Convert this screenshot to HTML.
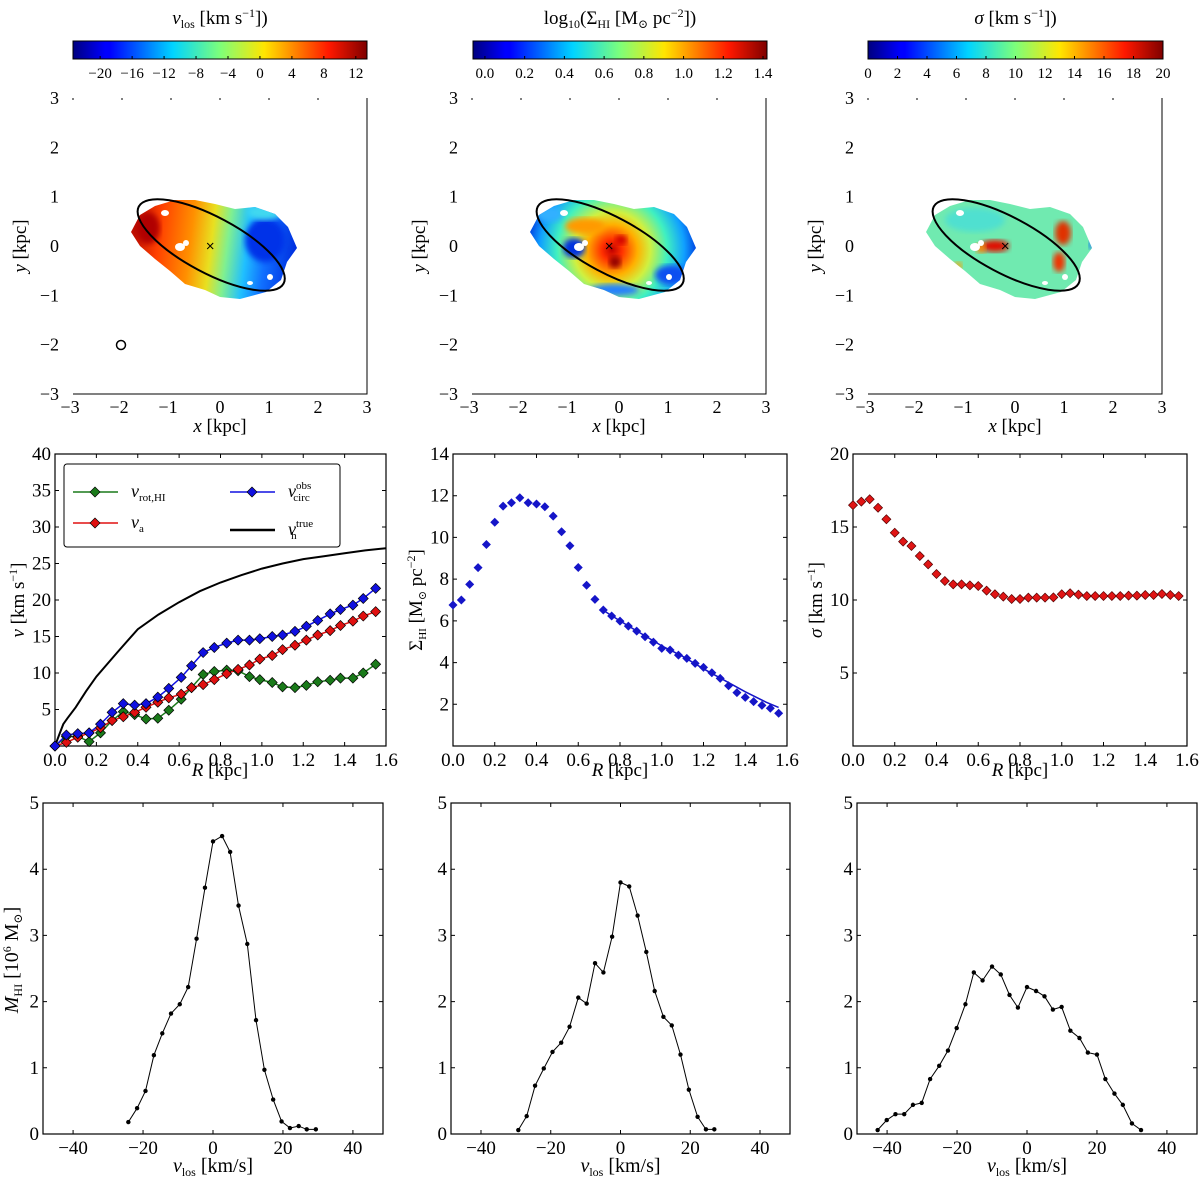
<!DOCTYPE html>
<html><head><meta charset="utf-8"><style>
html,body{margin:0;padding:0;background:#fff;}
svg{display:block;font-family:"Liberation Serif","DejaVu Serif",serif;}
</style></head><body>
<svg id="fig" width="1200" height="1183" viewBox="0 0 1200 1183" xmlns="http://www.w3.org/2000/svg">
<defs>
<linearGradient id="jet" x1="0" x2="1" y1="0" y2="0">
<stop offset="0" stop-color="#00007f"/><stop offset="0.11" stop-color="#0000ff"/><stop offset="0.125" stop-color="#0000ff"/><stop offset="0.34" stop-color="#00d4ff"/><stop offset="0.5" stop-color="#7dff7a"/><stop offset="0.65" stop-color="#ffe600"/><stop offset="0.87" stop-color="#ff1800"/><stop offset="1" stop-color="#7f0000"/>
</linearGradient>
<linearGradient id="velgrad" gradientUnits="userSpaceOnUse" x1="135" y1="230" x2="295" y2="250">
<stop offset="0" stop-color="#c01000"/><stop offset="0.15" stop-color="#ff4000"/><stop offset="0.35" stop-color="#ff9000"/><stop offset="0.48" stop-color="#e8e020"/><stop offset="0.58" stop-color="#80f090"/><stop offset="0.7" stop-color="#20c0ff"/><stop offset="0.82" stop-color="#1070ff"/><stop offset="1" stop-color="#0030e0"/>
</linearGradient>
<radialGradient id="densgrad" gradientUnits="userSpaceOnUse" cx="612" cy="250" r="85">
<stop offset="0" stop-color="#c00000"/><stop offset="0.12" stop-color="#ff3000"/><stop offset="0.3" stop-color="#ffb000"/><stop offset="0.45" stop-color="#d0f040"/><stop offset="0.65" stop-color="#40f0c0"/><stop offset="0.85" stop-color="#10a0ff"/><stop offset="1" stop-color="#0040e0"/>
</radialGradient>
<filter id="blur3"><feGaussianBlur stdDeviation="3"/></filter>
</defs>
</svg>
<script>
// ---------- data ----------
var cbVelTicks = [-20,-16,-12,-8,-4,0,4,8,12];
var cbDensTicks = [0.0,0.2,0.4,0.6,0.8,1.0,1.2,1.4];
var cbSigTicks = [0,2,4,6,8,10,12,14,16,18,20];
var mapTicks = [-3,-2,-1,0,1,2,3];
var rotR = [0,0.055,0.11,0.165,0.22,0.276,0.33,0.385,0.44,0.497,0.55,0.61,0.66,0.716,0.77,0.83,0.885,0.94,0.99,1.05,1.10,1.16,1.215,1.27,1.33,1.38,1.44,1.49,1.55];
var vcircObs = [0,1.5,1.7,1.8,3.0,4.6,5.8,5.6,5.8,6.7,7.9,9.4,11.0,12.8,13.5,14.1,14.5,14.5,14.7,15.0,15.2,15.7,16.4,17.2,18.1,18.7,19.3,20.2,21.6];
var vA = [0,0.5,1.2,1.8,2.5,3.5,4.0,4.6,5.3,6.0,6.6,7.1,8.0,8.4,9.1,9.9,10.5,11.1,11.9,12.4,13.2,13.8,14.5,15.2,15.8,16.5,17.1,17.8,18.4];
var vRotHI = [0,1.3,1.3,0.6,1.8,3.5,4.7,4.3,3.7,3.8,4.9,6.4,8.0,9.8,10.2,10.4,10.3,9.5,9.1,8.7,8.1,8.0,8.3,8.8,9.0,9.3,9.3,10.0,11.2];
var trueR = [0,0.02,0.04,0.06,0.1,0.15,0.2,0.3,0.4,0.5,0.6,0.7,0.8,0.9,1.0,1.1,1.2,1.3,1.4,1.5,1.6];
var vTrue = [0,1.5,3.0,3.8,5.3,7.5,9.5,12.8,16.0,18.0,19.7,21.2,22.4,23.4,24.3,25.0,25.6,26.0,26.4,26.8,27.1];
var profR = [0,0.04,0.08,0.12,0.16,0.2,0.24,0.28,0.32,0.36,0.4,0.44,0.48,0.52,0.56,0.6,0.64,0.68,0.72,0.76,0.8,0.84,0.88,0.92,0.96,1.0,1.04,1.08,1.12,1.16,1.2,1.24,1.28,1.32,1.36,1.4,1.44,1.48,1.52,1.56];
var sigmaHI = [6.76,7.0,7.75,8.55,9.66,10.73,11.5,11.66,11.9,11.66,11.6,11.47,11.02,10.27,9.6,8.56,7.71,7.03,6.52,6.23,5.99,5.75,5.51,5.24,4.98,4.68,4.6,4.36,4.2,3.96,3.77,3.51,3.24,2.89,2.56,2.33,2.13,1.95,1.81,1.57];
var fitR = [0.72,0.8,0.9,1.0,1.1,1.2,1.3,1.4,1.5,1.56];
var fitSigma = [6.5,6.0,5.4,4.8,4.3,3.7,3.15,2.6,2.1,1.85];
var dispHI = [16.5,16.74,16.9,16.32,15.53,14.61,14.0,13.7,13.01,12.44,11.78,11.3,11.07,11.07,11.0,10.96,10.64,10.39,10.23,10.07,10.07,10.16,10.16,10.16,10.18,10.39,10.46,10.37,10.27,10.27,10.27,10.27,10.27,10.3,10.3,10.34,10.34,10.41,10.34,10.27];
var spec1V = [-24.2,-21.7,-19.3,-16.9,-14.5,-12.0,-9.5,-7.1,-4.7,-2.3,0,2.6,4.9,7.3,9.8,12.3,14.7,17.2,19.6,22,24.5,26.8,29.4];
var spec1M = [0.18,0.39,0.65,1.19,1.52,1.82,1.96,2.22,2.95,3.72,4.42,4.50,4.26,3.45,2.87,1.72,0.97,0.52,0.19,0.09,0.12,0.07,0.07];
var spec2V = [-29.3,-26.9,-24.5,-22.0,-19.5,-17.0,-14.6,-12.1,-9.7,-7.3,-4.9,-2.4,0,2.5,4.9,7.4,9.8,12.3,14.7,17.2,19.6,22.1,24.5,26.9];
var spec2M = [0.06,0.27,0.73,0.99,1.24,1.38,1.62,2.06,1.97,2.58,2.44,2.98,3.80,3.74,3.30,2.75,2.16,1.77,1.64,1.20,0.67,0.26,0.07,0.07];
var spec3V = [-42.7,-40.1,-37.6,-35.1,-32.6,-30.1,-27.7,-25.1,-22.6,-20.1,-17.6,-15.2,-12.7,-10.0,-7.5,-5.0,-2.6,0,2.6,5.0,7.4,9.9,12.4,15.0,17.4,20.0,22.4,25.0,27.4,30.0,32.6];
var spec3M = [0.06,0.21,0.30,0.30,0.44,0.47,0.83,1.03,1.26,1.60,1.96,2.44,2.32,2.53,2.41,2.10,1.91,2.22,2.16,2.08,1.88,1.92,1.56,1.45,1.23,1.20,0.83,0.61,0.44,0.16,0.06];
var rTicks = [0.0,0.2,0.4,0.6,0.8,1.0,1.2,1.4,1.6];
var vTicks = [5,10,15,20,25,30,35,40];
var sigmaTicks = [2,4,6,8,10,12,14];
var dispTicks = [5,10,15,20];
var specXTicks = [-40,-20,0,20,40];
var specYTicks = [0,1,2,3,4,5];

// ---------- helpers ----------
var NS = "http://www.w3.org/2000/svg";
var svg = document.getElementById('fig');
function mk(tag, attrs, parent){
  var e = document.createElementNS(NS, tag);
  for (var k in attrs) e.setAttribute(k, attrs[k]);
  (parent || svg).appendChild(e);
  return e;
}
function scale(d0,d1,p0,p1){ return function(v){ return p0 + (v-d0)/(d1-d0)*(p1-p0); }; }
function txt(x,y,s,size,anchor,parent,name){
  var t = mk('text',{x:x,y:y,'font-size':size,'text-anchor':anchor||'middle',fill:'#000'},parent);
  
  
  t.innerHTML = s;
  return t;
}
function fmtTick(v,dec){ var s = v.toFixed(dec); return s.replace('-', '\u2212'); }

// ---------- colorbars ----------
function colorbar(x0,x1,d0,d1,ticks,dec,title,name){
  var g = mk('g',{});
  
  
  var r = mk('rect',{x:x0,y:41,width:x1-x0,height:18,fill:'url(#jet)',stroke:'#000','stroke-width':1},g);
  
  
  var sx = scale(d0,d1,x0,x1);
  ticks.forEach(function(t){
    var x = sx(t);
    var l = mk('line',{x1:x,x2:x,y1:56,y2:59,stroke:'#000','stroke-width':1},g);
    
    
    txt(x,78,fmtTick(t,dec),15,'middle',g,'colorbar-tick-label');
  });
  txt((x0+x1)/2,24,title,19,'middle',g,'colorbar-title');
}
colorbar(73,367,-23.4,13.4,cbVelTicks,0,'<tspan font-style="italic">v</tspan><tspan font-size="12" dy="4">los</tspan><tspan dy="-4"> [km s</tspan><tspan font-size="12" dy="-7">−1</tspan><tspan dy="7">])</tspan>','velocity-colorbar');
colorbar(473,767,-0.06,1.42,cbDensTicks,1,'log<tspan font-size="12" dy="4">10</tspan><tspan dy="-4">(Σ</tspan><tspan font-size="12" dy="4">HI</tspan><tspan dy="-4"> [M</tspan><tspan font-size="12" dy="4">⊙</tspan><tspan dy="-4"> pc</tspan><tspan font-size="12" dy="-7">−2</tspan><tspan dy="7">])</tspan>','density-colorbar');
colorbar(868,1163,0,20,cbSigTicks,0,'<tspan font-style="italic">σ</tspan> [km s<tspan font-size="12" dy="-7">−1</tspan><tspan dy="7">])</tspan>','dispersion-colorbar');

// ---------- maps ----------
var blobPts = [[131,232],[140,215],[155,206],[175,200],[195,200],[215,204],[235,209],[255,207],[275,214],[288,227],[297,248],[287,262],[281,280],[266,292],[240,299],[220,297],[205,290],[185,284],[170,271],[155,259],[140,246]];
function mapPanel(off,fill,name,extras){
  var g = mk('g',{});
  
  
  var x0 = 73+off, x1 = 367+off, y0 = 98, y1 = 394;
  var sx = scale(-3,3,x0,x1), sy = scale(-3,3,y1,y0);
  var d = blobPts.map(function(p,i){ return (i?'L':'M')+(p[0]+off)+','+p[1]; }).join(' ')+'Z';
  var cid = 'clip'+off;
  var cp = mk('clipPath',{id:cid},g);
  mk('path',{d:d},cp);
  var blob = mk('path',{d:d,fill:fill},g);
  
  
  var eg = mk('g',{'clip-path':'url(#'+cid+')'},g);
  extras(eg, off);
  // holes
  [[165,213,4,3],[180,247,5,4],[186,243,3,3],[250,283,3,2],[270,277,3,3]].forEach(function(h){
    var e = mk('ellipse',{cx:h[0]+off,cy:h[1],rx:h[2],ry:h[3],fill:'#fff'},g);
    
    
  });
  var el = mk('ellipse',{cx:sx(-0.2)+1,cy:sy(0)-1,rx:82,ry:28,fill:'none',stroke:'#000','stroke-width':2,transform:'rotate(28 '+(sx(-0.2)+1)+' '+(sy(0)-1)+')'},g);
  
  
  var cx = sx(-0.2), cy = sy(0);
  var c = mk('path',{d:'M'+(cx-3)+','+(cy-3)+'L'+(cx+3)+','+(cy+3)+'M'+(cx-3)+','+(cy+3)+'L'+(cx+3)+','+(cy-3),stroke:'#000','stroke-width':1},g);
  
  
  var sp = mk('path',{d:'M'+x1+','+y0+'L'+x1+','+y1+'L'+x0+','+y1,fill:'none',stroke:'#000','stroke-width':1},g);
  
  
  mapTicks.forEach(function(t){
    txt(sx(t)+(t<0?-3:0),y1+19,fmtTick(t,0),18,'middle',g,'x-tick-label');
    txt(x0-14,sy(t)+6,fmtTick(t,0),18,'end',g,'y-tick-label');
    var tk = mk('line',{x1:sx(t),x2:sx(t),y1:y0,y2:y0+2,stroke:'#000'},g);
    
    
  });
  txt((x0+x1)/2,432,'<tspan font-style="italic">x</tspan> [kpc]',19,'middle',g,'x-axis-title');
  var yl = txt(0,0,'<tspan font-style="italic">y</tspan> [kpc]',19,'middle',g,'y-axis-title');
  yl.setAttribute('transform','translate('+(x0-47)+','+(sy(0))+') rotate(-90)');
  return g;
}
var m1 = mapPanel(0,'url(#velgrad)','velocity-map',function(g,off){
  var a = mk('ellipse',{cx:265+off,cy:240,rx:20,ry:22,fill:'#0030e8',filter:'url(#blur3)'},g);
  
  
  var b = mk('ellipse',{cx:148+off,cy:228,rx:12,ry:16,fill:'#b00000',filter:'url(#blur3)'},g);
  
  
  var c = mk('ellipse',{cx:265+off,cy:212,rx:18,ry:8,fill:'#40d8f0',filter:'url(#blur3)'},g);
  
  
});
var beam = mk('circle',{cx:121,cy:345,r:4.5,fill:'none',stroke:'#000','stroke-width':1.5});


var m2 = mapPanel(399,'url(#densgrad)','density-map',function(g,off){
  [[175,248,11,10,'#0030e0'],[150,214,14,8,'#30b0ff'],[272,275,16,10,'#1050f0'],[215,290,25,6,'#2080ff'],[186,226,20,8,'#ff9a00'],[216,262,6,6,'#900000'],[222,240,6,5,'#d00000']].forEach(function(s){
    var e = mk('ellipse',{cx:s[0]+off,cy:s[1],rx:s[2],ry:s[3],fill:s[4],filter:'url(#blur3)'},g);
    
    
  });
});
var m3 = mapPanel(795,'#70eab0','dispersion-map',function(g,off){
  [[180,220,30,12,'#50e0d0'],[200,246,14,6,'#e01000'],[186,248,5,5,'#ff8000'],[268,233,8,12,'#e03000'],[264,262,6,10,'#f03000'],[163,266,4,4,'#ffa000'],[297,245,3,4,'#1060ff']].forEach(function(s){
    var e = mk('ellipse',{cx:s[0]+off,cy:s[1],rx:s[2],ry:s[3],fill:s[4],filter:'url(#blur3)'},g);
    
    
  });
});

// ---------- line/scatter panels ----------
function frame(x0,x1,y0,y1,xd,yd,xt,xdec,yt,ydec,name){
  var g = mk('g',{});
  
  
  var sx = scale(xd[0],xd[1],x0,x1), sy = scale(yd[0],yd[1],y1,y0);
  var r = mk('rect',{x:x0,y:y0,width:x1-x0,height:y1-y0,fill:'none',stroke:'#000','stroke-width':1.2},g);
  
  
  xt.forEach(function(t){
    var x = sx(t);
    var l = mk('path',{d:'M'+x+','+y1+'v-4M'+x+','+y0+'v4',stroke:'#000'},g);
    
    
    txt(x,y1+20,fmtTick(t,xdec),19,'middle',g,'x-tick-label');
  });
  yt.forEach(function(t){
    var y = sy(t);
    var l = mk('path',{d:'M'+x0+','+y+'h4M'+x1+','+y+'h-4',stroke:'#000'},g);
    
    
    txt(x0-4,y+6,fmtTick(t,ydec),19,'end',g,'y-tick-label');
  });
  return {g:g,sx:sx,sy:sy};
}
function line(p,xs,ys,color,w,name){
  var d = xs.map(function(x,i){ return (i?'L':'M')+p.sx(x).toFixed(1)+','+p.sy(ys[i]).toFixed(1); }).join(' ');
  var l = mk('path',{d:d,fill:'none',stroke:color,'stroke-width':w},p.g);
  
  
}
function diamonds(p,xs,ys,color,s,edge,name){
  xs.forEach(function(x,i){
    var cx = p.sx(x), cy = p.sy(ys[i]);
    var d = mk('path',{d:'M'+cx+','+(cy-s)+'L'+(cx+s)+','+cy+'L'+cx+','+(cy+s)+'L'+(cx-s)+','+cy+'Z',fill:color,stroke:edge,'stroke-width':0.7},p.g);
    
    
  });
}
function dots(p,xs,ys,name){
  xs.forEach(function(x,i){
    var c = mk('circle',{cx:p.sx(x),cy:p.sy(ys[i]),r:2.2,fill:'#000'},p.g);
    
    
  });
}

// rotation curve
var pRot = frame(55,386,454,746,[0,1.6],[0,40],rTicks,1,vTicks,0,'rotation-curve-panel');
line(pRot,trueR,vTrue,'#000',2,'v-true-line');
line(pRot,rotR,vRotHI,'#1a7a1a',1.5,'v-rot-hi-line');
line(pRot,rotR,vA,'#e01010',1.5,'v-a-line');
line(pRot,rotR,vcircObs,'#1010e0',1.5,'v-circ-obs-line');
diamonds(pRot,rotR,vRotHI,'#1a7a1a',5,'#000','v-rot-hi-point');
diamonds(pRot,rotR,vA,'#e01010',5,'#000','v-a-point');
diamonds(pRot,rotR,vcircObs,'#1010e0',5,'#000','v-circ-obs-point');
txt(220,776,'<tspan font-style="italic">R</tspan> [kpc]',19,'middle',pRot.g,'x-axis-title');
var yl1 = txt(0,0,'<tspan font-style="italic">v</tspan> [km s<tspan font-size="12" dy="-7">−1</tspan><tspan dy="7">]</tspan>',19,'middle',pRot.g,'y-axis-title');
yl1.setAttribute('transform','translate(24,600) rotate(-90)');
// legend
var lg = mk('g',{});


var lb = mk('rect',{x:64,y:464,width:276,height:83,rx:3,fill:'#fff',stroke:'#000','stroke-width':1},lg);


function legEntry(x,y,color,marker,label,name){
  var l = mk('line',{x1:x,x2:x+45,y1:y,y2:y,stroke:color,'stroke-width':marker?1.5:2.5},lg);
  
  
  if (marker){
    var c = x+22;
    var d = mk('path',{d:'M'+c+','+(y-5)+'L'+(c+5)+','+y+'L'+c+','+(y+5)+'L'+(c-5)+','+y+'Z',fill:color,stroke:'#000','stroke-width':0.7},lg);
    
    
  }
  txt(x+58,y+5,label,18,'start',lg,name+'-label');
}
legEntry(73,492,'#1a7a1a',true,'<tspan font-style="italic">v</tspan><tspan font-size="11" dy="4">rot,HI</tspan>','legend-v-rot-hi');
legEntry(73,523,'#e01010',true,'<tspan font-style="italic">v</tspan><tspan font-size="11" dy="4">a</tspan>','legend-v-a');
legEntry(230,492,'#1010e0',true,'<tspan font-style="italic">v</tspan><tspan font-size="11" dy="-8">obs</tspan><tspan font-size="11" dx="-18" dy="12">circ</tspan>','legend-v-circ-obs');
legEntry(230,530,'#000',false,'<tspan font-style="italic">v</tspan><tspan font-size="11" dy="-8">true</tspan><tspan font-size="11" dx="-22" dy="12">h</tspan>','legend-v-true');

// surface density
var pSig = frame(453,787,454,746,[0,1.6],[0,14],rTicks,1,sigmaTicks,0,'surface-density-panel');
diamonds(pSig,profR,sigmaHI,'#1515c8',4.5,'none','sigma-hi-point');
line(pSig,fitR,fitSigma,'#1515c8',1.5,'sigma-fit-line');
txt(620,776,'<tspan font-style="italic">R</tspan> [kpc]',19,'middle',pSig.g,'x-axis-title');
var yl2 = txt(0,0,'Σ<tspan font-size="11" dy="4">HI</tspan><tspan dy="-4"> [M</tspan><tspan font-size="11" dy="4">⊙</tspan><tspan dy="-4"> pc</tspan><tspan font-size="12" dy="-7">−2</tspan><tspan dy="7">]</tspan>',19,'middle',pSig.g,'y-axis-title');
yl2.setAttribute('transform','translate(422,600) rotate(-90)');

// velocity dispersion
var pDisp = frame(853,1187,454,746,[0,1.6],[0,20],rTicks,1,dispTicks,0,'dispersion-panel');
diamonds(pDisp,profR,dispHI,'#e01515',4.5,'#500','dispersion-point');
txt(1020,776,'<tspan font-style="italic">R</tspan> [kpc]',19,'middle',pDisp.g,'x-axis-title');
var yl3 = txt(0,0,'<tspan font-style="italic">σ</tspan> [km s<tspan font-size="12" dy="-7">−1</tspan><tspan dy="7">]</tspan>',19,'middle',pDisp.g,'y-axis-title');
yl3.setAttribute('transform','translate(822,600) rotate(-90)');

// spectra
function specPanel(x0,x1,vs,ms,name){
  var p = frame(x0,x1,803,1134,[-48.6,48.6],[0,5],specXTicks,0,specYTicks,0,name);
  line(p,vs,ms,'#000',1,'spectrum-line');
  dots(p,vs,ms,'spectrum-point');
  txt((x0+x1)/2,1172,'<tspan font-style="italic">v</tspan><tspan font-size="12" dy="4">los</tspan><tspan dy="-4"> [km/s]</tspan>',20,'middle',p.g,'x-axis-title');
  return p;
}
var s1 = specPanel(43,383,spec1V,spec1M,'spectrum-panel-left');
var yl4 = txt(0,0,'<tspan font-style="italic">M</tspan><tspan font-size="12" dy="4">HI</tspan><tspan dy="-4"> [10</tspan><tspan font-size="12" dy="-7">6</tspan><tspan dy="7"> M</tspan><tspan font-size="12" dy="4">⊙</tspan><tspan dy="-4">]</tspan>',20,'middle',s1.g,'y-axis-title');
yl4.setAttribute('transform','translate(18,960) rotate(-90)');
specPanel(451,790,spec2V,spec2M,'spectrum-panel-middle');
specPanel(857,1197,spec3V,spec3M,'spectrum-panel-right');
</script>
</body></html>
